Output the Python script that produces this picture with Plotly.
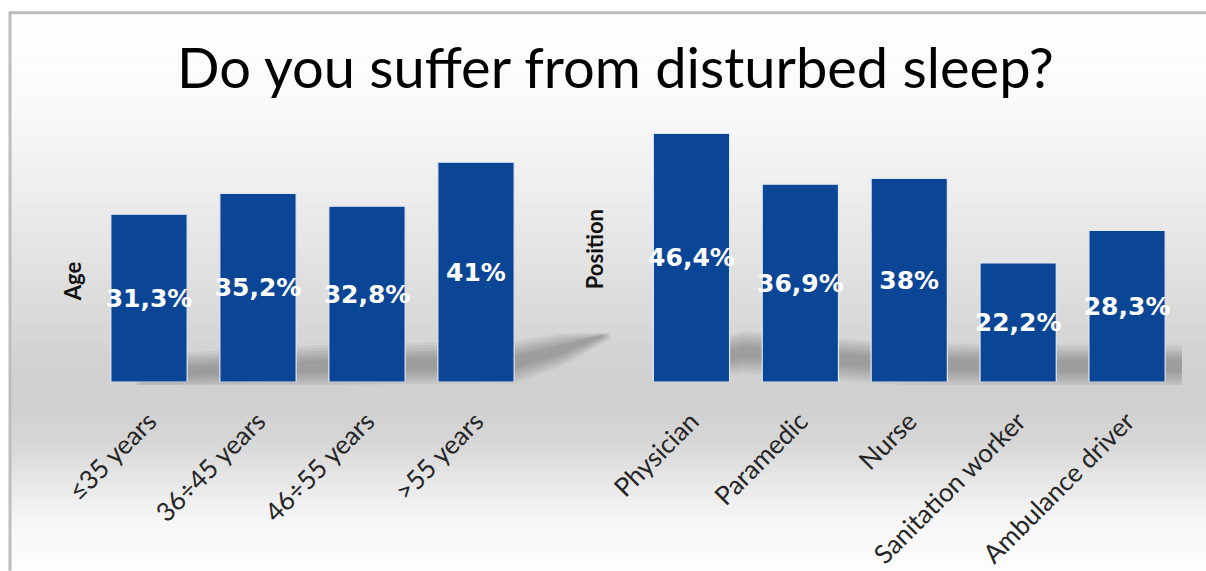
import plotly.graph_objects as go
import numpy as np

# ---- data ----
title = "Do you suffer from disturbed sleep?"
age_groups = ["≤35 years", "36÷45 years", "46÷55 years", ">55 years"]
age_values = [31.3, 35.2, 32.8, 41.0]
positions = ["Physician", "Paramedic", "Nurse", "Sanitation worker", "Ambulance driver"]
position_values = [46.4, 36.9, 38.0, 22.2, 28.3]
panel_titles = ["Age", "Position"]

W, H = 1206, 571
plot_top, plot_bot = 113.5, 382.0
ph = plot_bot - plot_top


def fmt(v):
    return f"{v:g}".replace(".", ",") + "%"


def ypaper(ypix):
    return (plot_bot - ypix) / ph


def xpaper(xpix):
    return xpix / W


BAR = "#0b4696"
bar_kw = dict(
    marker=dict(color=BAR, line=dict(color="#dfe7f3", width=1.2)),
    width=0.7,
    textposition="inside",
    insidetextanchor="middle",
    constraintext="none",
    textangle=0,
    textfont=dict(family="DejaVu Sans", size=25, color="white", weight="bold"),
    hoverinfo="skip",
    showlegend=False,
    cliponaxis=False,
)

fig = go.Figure()
fig.add_trace(go.Bar(x=age_groups, y=age_values, text=[fmt(v) for v in age_values],
                     xaxis="x", yaxis="y", **bar_kw))
fig.add_trace(go.Bar(x=positions, y=position_values, text=[fmt(v) for v in position_values],
                     xaxis="x2", yaxis="y2", **bar_kw))

# ---- background gradient (styling) ----
prof_y = [12, 100, 200, 300, 360, 400, 440, 480, 520, 571]
prof_g = [255, 250, 236, 220, 210, 207, 214, 230, 246, 253]
shapes = []
ys = np.linspace(12, 571, 120)
for i in range(len(ys) - 1):
    ym = (ys[i] + ys[i + 1]) / 2
    g = int(round(np.interp(ym, prof_y, prof_g)))
    shapes.append(dict(type="rect", xref="paper", yref="paper", layer="below",
                       x0=xpaper(11), x1=1.0, y0=ypaper(ys[i + 1] + 0.5), y1=ypaper(ys[i]),
                       line=dict(width=0), fillcolor=f"rgb({g},{g},{g})"))


# soft floor shadows (styling): nested bands around a centre line, tapered
def band_path(center, weights, half, x_pad):
    xs = [p[0] for p in center]
    cy = [p[1] for p in center]
    xs2 = [xs[0] - x_pad[0]] + xs[1:-1] + [xs[-1] + x_pad[1]]
    top = [(x, y - half * w) for x, y, w in zip(xs2, cy, weights)]
    bot = [(x, min(y + half * w, 385)) for x, y, w in zip(xs2, cy, weights)][::-1]
    pts = top + bot
    return "M " + " L ".join(f"{xpaper(x):.5f},{ypaper(y):.5f}" for x, y in pts) + " Z"


shadow_sets = [
    ([(150, 372), (330, 366), (515, 362), (560, 350), (600, 336)],
     [0.8, 1.0, 1.0, 0.8, 0.15], (2, 1.5)),
    ([(690, 364), (745, 352), (900, 364), (1050, 366), (1182, 366)],
     [0.8, 1.0, 1.0, 1.0, 1.0], (2, 0)),
]
for cl, wts, pad in shadow_sets:
    for k in range(1, 8):
        shapes.append(dict(type="path", xref="paper", yref="paper", layer="below",
                           path=band_path(cl, wts, 3 + 2.6 * k, (pad[0] * k, pad[1] * k)),
                           line=dict(width=0), fillcolor="rgba(60,60,60,0.055)"))

# frame
shapes.append(dict(type="line", xref="paper", yref="paper", x0=xpaper(9), x1=1.0,
                   y0=ypaper(12), y1=ypaper(12), line=dict(color="#bdbdbd", width=3)))
shapes.append(dict(type="line", xref="paper", yref="paper", x0=xpaper(10), x1=xpaper(10),
                   y0=ypaper(11), y1=ypaper(571), line=dict(color="#bdbdbd", width=3)))

annotations = [
    dict(text=title, xref="paper", yref="paper", x=xpaper(615), y=ypaper(66),
         showarrow=False, font=dict(family="Lato", size=56, color="#000000"),
         xanchor="center", yanchor="middle"),
    dict(text=f"<b>{panel_titles[0]}</b>", xref="paper", yref="paper", x=xpaper(72), y=ypaper(281),
         showarrow=False, textangle=-90, font=dict(family="Lato", size=22, color="#111111"),
         xanchor="center", yanchor="middle"),
    dict(text=f"<b>{panel_titles[1]}</b>", xref="paper", yref="paper", x=xpaper(594), y=ypaper(249),
         showarrow=False, textangle=-90, font=dict(family="Lato", size=22, color="#111111"),
         xanchor="center", yanchor="middle"),
]

tick_font = dict(family="Lato", size=26, color="#262626")
xcommon = dict(showgrid=False, zeroline=False, showline=False, ticks="", tickangle=-45,
               tickfont=tick_font, ticklabelstandoff=18, fixedrange=True, automargin=False)
ycommon = dict(range=[0, 50], visible=False, showgrid=False, fixedrange=True, automargin=False)

fig.update_layout(
    width=W, height=H,
    margin=dict(l=0, r=0, t=plot_top, b=H - plot_bot, pad=0, autoexpand=False),
    paper_bgcolor="white", plot_bgcolor="rgba(0,0,0,0)",
    xaxis=dict(domain=[xpaper(94.5), xpaper(530.5)], anchor="y", **xcommon),
    yaxis=dict(anchor="x", **ycommon),
    xaxis2=dict(domain=[xpaper(637), xpaper(1181.5)], anchor="y2", **xcommon),
    yaxis2=dict(anchor="x2", **ycommon),
    shapes=shapes,
    annotations=annotations,
    bargap=0.3,
)

fig.write_html("out.html")
